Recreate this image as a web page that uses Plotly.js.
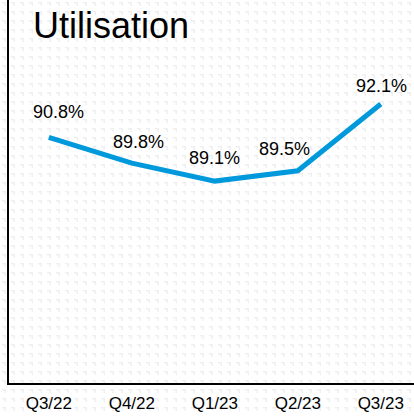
<!DOCTYPE html>
<html>
<head>
<meta charset="utf-8">
<script src="https://cdn.plot.ly/plotly-3.0.1.min.js"></script>
<style>
html,body{margin:0;padding:0;background:#fff;}
#chart{width:414px;height:416px;
  background-color:#fff;
  background-image:url("data:image/svg+xml;utf8,<svg xmlns='http://www.w3.org/2000/svg' width='9' height='9'><path d='M2 2h4v4h-1.5v-2.5h-2.5z' fill='%23efefef'/></svg>");
  background-size:9px 9px;}
</style>
</head>
<body>
<div id="chart"></div>
<script>
const categories = ["Q3/22", "Q4/22", "Q1/23", "Q2/23", "Q3/23"];
const utilisation = [90.8, 89.8, 89.1, 89.5, 92.1];
const valueLabels = ["90.8%", "89.8%", "89.1%", "89.5%", "92.1%"];

// label nudges (pixels) to match reference label placement
const labelDx = [10, 7, 0, -13, 1];
const labelDy = [25, 21, 23, 22, 18];

const FONT = "Liberation Sans, Arial, sans-serif";

const trace = {
  x: categories,
  y: utilisation,
  type: "scatter",
  mode: "lines",
  line: {color: "#0099DC", width: 5},
  hoverinfo: "skip"
};

const annotations = categories.map((c, i) => ({
  x: c, y: utilisation[i], xref: "x", yref: "y",
  text: valueLabels[i], showarrow: false,
  xshift: labelDx[i], yshift: labelDy[i],
  font: {family: FONT, size: 18, color: "#000"}
}));

const layout = {
  width: 414, height: 416,
  margin: {l: 9, r: 0, t: 0, b: 33},
  paper_bgcolor: "rgba(0,0,0,0)", plot_bgcolor: "rgba(0,0,0,0)",
  showlegend: false,
  title: {text: "Utilisation", x: 33/414, xanchor: "left", xref: "container", y: 1 - 25/416, yanchor: "middle",
    font: {family: FONT, size: 36, color: "#000"}},
  xaxis: {type: "category", range: [-0.48, 4.4], showgrid: false, zeroline: false,
    showline: true, linecolor: "#000", linewidth: 2, ticks: "", ticklen: 0, ticklabelstandoff: 4,
    tickfont: {family: FONT, size: 17, color: "#000"}, fixedrange: true},
  yaxis: {range: [81.24, 96.15], showgrid: false, zeroline: false, showticklabels: false,
    showline: true, linecolor: "#000", linewidth: 2, ticks: "", fixedrange: true},
  annotations: annotations
};

Plotly.newPlot("chart", [trace], layout, {displayModeBar: false, staticPlot: true});
</script>
</body>
</html>
